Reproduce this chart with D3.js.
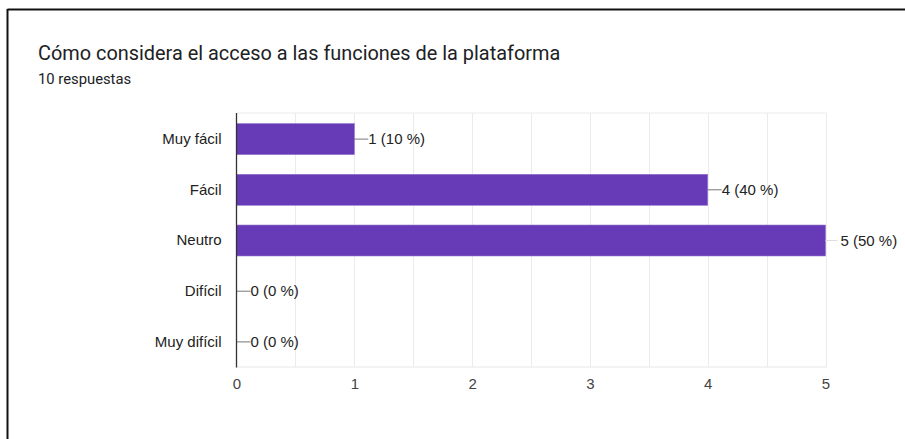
<!DOCTYPE html>
<html>
<head>
<meta charset="utf-8">
<script src="https://cdn.jsdelivr.net/npm/d3@7"></script>
<style>
  html, body { margin: 0; padding: 0; background: #fff; }
  svg { display: block; }
</style>
</head>
<body>
<svg id="chart" width="905" height="439"></svg>
<script>
// Survey answers: categories, counts and axis ticks
const categories = ["Muy fácil", "Fácil", "Neutro", "Difícil", "Muy difícil"];
const counts = [1, 4, 5, 0, 0];
const totalResponses = 10;
const xTicks = [0, 1, 2, 3, 4, 5];
const title = "Cómo considera el acceso a las funciones de la plataforma";
const subtitle = totalResponses + " respuestas";

const svg = d3.select("#chart");

// card frame (top and left edges)
svg.append("line").attr("x1", 7.5).attr("x2", 905).attr("y1", 9.5).attr("y2", 9.5)
  .attr("stroke", "#111").attr("stroke-width", 2);
svg.append("line").attr("x1", 7.5).attr("x2", 7.5).attr("y1", 9).attr("y2", 439)
  .attr("stroke", "#111").attr("stroke-width", 2);

svg.append("text").attr("x", 38).attr("y", 60)
  .attr("font-family", "Roboto, sans-serif").attr("font-size", 19.9)
  .attr("fill", "#202124").text(title);
svg.append("text").attr("x", 38).attr("y", 84)
  .attr("font-family", "Roboto, sans-serif").attr("font-size", 14.8)
  .attr("fill", "#202124").text(subtitle);

const plot = { left: 236.5, right: 825.5, top: 113, bottom: 367 };
const labelFont = "Arial, 'Liberation Sans', sans-serif";
const labelSize = 15;

const x = d3.scaleLinear().domain([0, 5]).range([plot.left, plot.right]);
const y = d3.scaleBand().domain(categories).range([plot.top, plot.bottom]).paddingInner(0.39).paddingOuter(0.2);

// gridlines at every half unit
const gridVals = d3.range(0.5, 5.01, 0.5);
svg.append("g").selectAll("line").data(gridVals).join("line")
  .attr("x1", d => Math.round(x(d)) + 0.5).attr("x2", d => Math.round(x(d)) + 0.5)
  .attr("y1", plot.top).attr("y2", plot.bottom)
  .attr("stroke", "#ebebeb").attr("stroke-width", 1);
svg.append("line").attr("x1", plot.left).attr("x2", plot.right + 1)
  .attr("y1", plot.top).attr("y2", plot.top).attr("stroke", "#ebebeb");
svg.append("line").attr("x1", plot.left).attr("x2", plot.right + 1)
  .attr("y1", plot.bottom).attr("y2", plot.bottom).attr("stroke", "#e6e6e6");

// bars
svg.append("g").selectAll("rect").data(categories).join("rect")
  .attr("x", x(0))
  .attr("y", d => y(d) + 0.5)
  .attr("width", (d, i) => x(counts[i]) - x(0))
  .attr("height", y.bandwidth())
  .attr("fill", "#673ab7")
  .attr("stroke", "#8e6cc9").attr("stroke-width", 0.6);

// value labels with leader lines
const lab = svg.append("g").attr("font-family", labelFont)
  .attr("font-size", labelSize).attr("fill", "#222");
categories.forEach((c, i) => {
  const cy = y(c) + y.bandwidth() / 2 + 0.5;
  const x0 = x(counts[i]);
  const big = counts[i] === 5;
  const len = big ? 12 : 14;
  lab.append("line").attr("x1", x0).attr("x2", x0 + len).attr("y1", cy).attr("y2", cy)
    .attr("stroke", big ? "#ddd" : "#777").attr("stroke-width", 1);
  lab.append("text").attr("x", x0 + len + (big ? 3 : 0)).attr("y", cy).attr("dy", "0.35em")
    .text(counts[i] + " (" + Math.round(counts[i] / totalResponses * 100) + " %)");
});

// category axis
const yAxis = svg.append("g").attr("transform", `translate(${plot.left},0.5)`)
  .call(d3.axisLeft(y).tickSize(0).tickPadding(15));
yAxis.select(".domain").remove();
yAxis.selectAll("text").attr("font-family", labelFont)
  .attr("font-size", labelSize).attr("fill", "#222");
svg.append("line").attr("x1", plot.left).attr("x2", plot.left)
  .attr("y1", plot.top).attr("y2", plot.bottom + 0.5)
  .attr("stroke", "#333").attr("stroke-width", 1.3);

// value axis
const xAxis = svg.append("g").attr("transform", `translate(0,${plot.bottom})`)
  .call(d3.axisBottom(x).tickValues(xTicks).tickFormat(d3.format("d")).tickSize(0).tickPadding(11));
xAxis.select(".domain").remove();
xAxis.selectAll("text").attr("font-family", labelFont)
  .attr("font-size", labelSize).attr("fill", "#444");
</script>
</body>
</html>
